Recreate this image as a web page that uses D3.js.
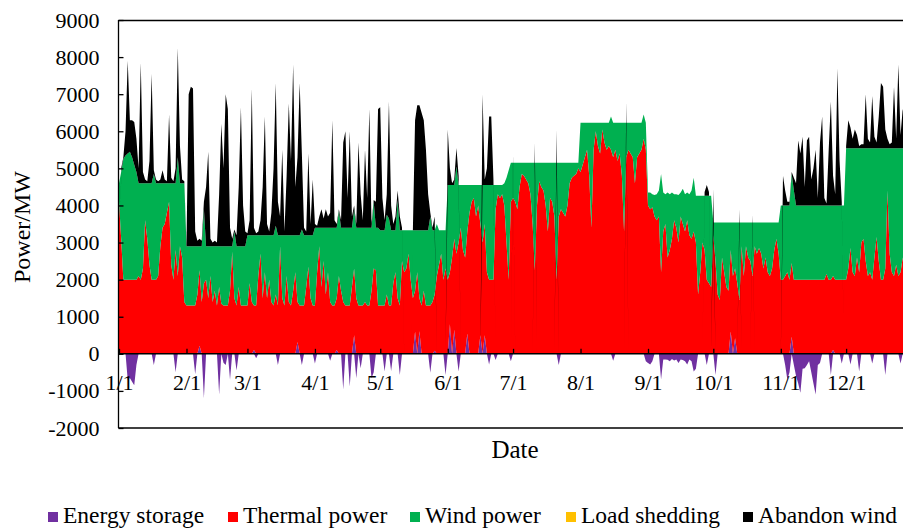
<!DOCTYPE html>
<html><head><meta charset="utf-8">
<script src="https://cdn.jsdelivr.net/npm/d3@7"></script>
<style>
body{margin:0;background:#fff;}
svg{display:block;}
text{font-family:"Liberation Serif","Times New Roman",serif;fill:#000;}
</style>
</head><body>
<svg id="chart" width="903" height="528"></svg>
<script>
// ---- x categories (day of year) and tick labels ----
const monthStartDays = [0,31,59,90,120,151,181,212,243,273,304,334];
const monthLabels = ["1/1","2/1","3/1","4/1","5/1","6/1","7/1","8/1","9/1","10/1","11/1","12/1"];
const yTickValues = [-2000,-1000,0,1000,2000,3000,4000,5000,6000,7000,8000,9000];
const seriesNames = ["Energy storage","Thermal power","Wind power","Load shedding","Abandon wind"];

// ---- daily series (MW) ----
const thermal = [
/*Jan*/4100,3100,2000,2000,2000,2000,2000,2000,2000,2100,2000,2300,3600,3100,2400,2000,2000,2000,2100,2900,3400,3500,3800,4100,2400,2000,2800,2100,2900,2600,1400,
/*Feb*/1300,1300,1300,1300,1300,1600,2030,1400,1900,2000,1500,2100,1400,1700,1300,1800,1350,1300,1300,1300,1700,2750,1500,1300,1800,1300,1300,1300,
/*Mar*/1300,1900,1400,1200,1300,2100,2700,1500,2200,1500,2000,1400,1300,1600,1300,2900,1500,1300,2100,1400,1300,1700,2200,1080,1300,1300,1300,1800,2350,1500,1300,
/*Apr*/1300,2200,2900,1800,2500,1600,2200,1400,1300,1300,1400,2100,1700,1400,1300,1300,1300,1800,1800,1500,1300,1300,1300,1400,1300,1300,1700,2300,2250,1300,
/*May*/1300,1300,1300,1600,1300,1300,1900,2200,1500,1300,2500,2200,2300,2700,2000,1500,1100,2200,890,1300,1700,1300,1300,1300,1400,1520,2100,2400,2700,2000,2300,
/*Jun*/2000,1400,2600,2450,2700,3000,3400,2800,2600,2750,3800,4100,4200,3700,4000,3000,3000,3000,2200,2000,2000,2000,3900,4300,4200,4300,4000,3000,2000,4100,
/*Jul*/4200,4100,3900,4500,4850,4800,4700,4600,4300,3500,2250,4000,4650,4500,4400,4000,3300,4200,4100,3700,2000,3700,3900,3800,3700,4000,4600,4750,4800,4850,5000,
/*Aug*/4900,5100,5300,5500,4800,3400,5500,6000,5600,5400,6050,5700,5500,5600,5500,5300,5500,5200,5400,4800,3300,5300,5500,5400,5300,4600,5300,5400,5500,5800,5500,
/*Sep*/4000,3900,3950,3700,3600,3700,2200,3300,3500,2600,2800,3100,3600,3400,3000,3700,3500,3300,3600,3200,3100,3300,3000,1600,2200,3000,2800,2000,1900,1800,
/*Oct*/3200,2500,1600,1450,2600,2200,1800,1700,2200,2100,1880,1900,1450,2900,2100,2900,2600,2500,2100,2900,2700,2850,2700,2300,2600,2200,2100,2300,2800,3100,2700,
/*Nov*/2000,2000,2100,2200,2000,1990,2000,2000,2000,2000,2000,2000,2000,2000,2000,2000,2000,2000,2000,2000,2000,2150,2000,2000,2000,2000,2000,2000,2000,2000,
/*Dec*/2000,2300,2850,2200,2100,2600,2200,3000,3100,2500,2100,2200,2000,2600,3150,2500,2000,2000,2300,4400,2700,2200,2100,2400,2100,2200,2600,2000,2200,2000,2000
];
const wind = [
/*Jan*/500,1800,3250,3350,3400,3450,3300,3100,2900,2500,2600,2300,1000,1500,2200,2600,2850,2600,2500,1700,1200,1100,800,500,2200,2600,1800,3200,1700,2000,3200,
/*Feb*/1600,1600,1600,1600,1600,1300,650,1500,2000,900,1400,800,1500,1200,1600,1100,1550,1600,1600,1600,1200,150,1800,1600,1100,1600,1600,1600,
/*Mar*/1900,1300,1800,1900,1900,1100,500,1700,1000,1700,1200,1800,1900,1850,1900,300,1700,1900,1100,1800,1900,1500,1000,1800,1900,2050,1900,1400,850,1700,1900,
/*Apr*/2100,1200,500,1600,900,1800,1200,2000,2100,2100,1900,1750,1700,2000,2100,2100,2100,1600,1600,1900,2100,2100,2100,2000,2100,2100,1700,1800,1150,2100,
/*May*/2030,2030,2030,2150,2350,2030,1430,1130,2650,2030,830,1130,1030,630,1330,1830,1630,1130,1830,2030,1630,2030,2030,2400,1930,1730,1400,930,630,1330,1030,
/*Jun*/2550,2350,1950,1450,2350,1550,1150,1750,1950,1250,750,450,350,850,550,1050,1550,1050,2350,2550,2550,2550,650,250,350,250,600,1750,2950,1050,
/*Jul*/950,1050,1250,650,300,350,450,550,850,1650,2900,1150,500,650,750,1150,1850,950,1050,1450,3150,1450,1250,1350,1450,1150,550,400,350,300,150,
/*Aug*/1330,1130,930,730,1430,2830,730,230,630,830,180,530,730,630,900,930,730,1030,830,1430,2930,930,730,830,930,1630,930,830,730,650,730,
/*Sep*/350,450,350,580,700,700,2650,1050,800,1750,1500,1250,700,900,1280,650,950,1000,750,1100,1300,1450,1260,2660,2060,1260,1460,2260,2360,2460,
/*Oct*/340,1040,1940,2090,940,1340,1740,1840,740,1440,1240,1640,2090,640,1440,640,940,1040,1440,640,840,690,840,1240,940,1340,1440,1240,740,440,840,
/*Nov*/2000,2000,1900,1800,2000,2400,2400,2000,2000,2000,2000,2000,2000,2000,2000,2000,2000,2000,2000,2000,2000,1850,2000,2000,1900,2000,2000,2000,2000,2000,
/*Dec*/3540,3240,2690,3340,3440,2940,3340,2540,2440,3040,3440,3340,3540,2940,2390,3040,3540,3540,3240,1140,2840,3340,3440,3140,3440,3340,2940,3540,3340,3540,3540
];
const abandon = [
/*Jan*/0,100,50,650,2500,850,1000,1150,900,400,3250,300,100,50,600,2950,100,100,50,100,350,100,50,1850,150,50,400,2950,1000,100,50,
/*Feb*/50,4100,4300,4250,400,150,200,150,200,1600,2550,200,100,150,100,1400,3300,2100,4100,3700,500,200,50,300,1600,3750,1100,400,
/*Mar*/50,400,3950,200,50,100,400,1300,3200,300,100,600,1800,3850,900,500,2300,100,1600,3550,2000,4600,1300,2100,4100,2050,200,100,2200,300,1500,
/*Apr*/100,50,300,500,250,500,300,400,2900,200,100,50,200,2300,2600,800,2600,300,100,100,2300,900,200,2100,800,3200,100,50,700,3200,
/*May*/3320,870,270,550,3150,670,170,370,250,370,70,0,0,0,0,20,2970,3370,3370,3170,2970,2170,970,100,70,370,0,0,0,0,0,
/*Jun*/1500,450,50,150,500,250,0,0,0,0,0,0,0,0,0,0,2450,150,450,1850,1850,150,0,0,0,0,0,0,0,0,
/*Jul*/200,0,0,0,0,0,0,0,0,0,550,0,0,0,0,0,0,0,0,0,900,0,0,0,0,0,0,0,0,0,0,
/*Aug*/0,0,0,0,0,0,0,0,0,0,0,0,0,0,0,0,0,0,0,0,0,570,0,0,0,0,0,0,0,0,0,
/*Sep*/0,0,0,0,0,0,0,0,0,0,0,0,0,0,0,0,0,0,0,0,0,0,0,0,0,0,100,290,100,0,
/*Oct*/910,0,0,0,0,0,0,0,0,0,0,0,360,0,0,0,0,0,210,0,0,0,0,0,0,0,0,0,0,0,0,
/*Nov*/0,800,400,100,100,50,350,600,1750,1400,1850,500,1750,1850,700,1000,1500,200,1700,2400,200,50,1500,2800,800,300,3700,1200,100,0,
/*Dec*/60,760,560,260,510,360,60,110,110,1460,260,160,1410,310,160,860,1760,1660,510,260,110,160,1660,260,2260,360,1060,660,1460,460,760
];
const storage = [
/*Jan*/0,0,0,0,-700,-650,-750,-850,-300,0,0,0,0,0,0,0,-300,0,0,0,0,0,0,0,0,0,-500,0,0,0,0,
/*Feb*/0,0,0,0,-550,0,220,0,-1200,0,0,0,0,0,0,-1100,0,-240,-300,0,-700,0,0,-450,0,0,0,0,
/*Mar*/0,0,0,100,-120,0,0,0,0,0,0,0,0,0,-300,0,0,0,0,0,0,0,0,320,0,-300,0,0,0,0,0,
/*Apr*/-260,0,0,0,0,0,0,-190,0,0,100,0,0,-960,0,0,-880,0,500,-660,0,-390,0,0,0,0,-660,-500,0,0,
/*May*/0,0,-480,0,0,-460,0,0,0,-570,0,0,0,0,0,0,600,0,610,0,0,0,0,-510,0,80,0,0,0,0,-570,
/*Jun*/0,800,0,650,0,-480,0,0,0,550,0,0,0,0,0,500,0,500,0,-290,0,0,-170,0,0,0,0,0,0,-200,
/*Jul*/0,0,0,0,0,0,0,0,0,0,0,0,0,0,0,0,0,0,0,0,0,-300,0,0,0,0,0,0,0,0,0,
/*Aug*/0,0,0,0,0,0,0,0,0,0,0,0,0,0,0,-190,0,0,0,0,0,0,0,0,0,0,0,0,0,0,-200,
/*Sep*/-250,-290,-200,0,0,0,-690,-150,-150,-160,-200,-140,-180,-150,-250,-150,-170,-200,-290,-150,-200,-480,-400,0,0,0,0,-300,0,0,
/*Oct*/0,-570,0,0,0,0,0,0,600,0,420,0,0,0,0,0,0,0,0,0,0,0,0,0,0,0,0,0,0,0,0,
/*Nov*/0,0,-300,-690,-500,460,-300,-600,-800,-1050,-400,-390,-300,-200,-500,-800,-1100,-300,-250,0,0,0,0,-570,100,0,0,0,-260,0,
/*Dec*/0,0,-290,0,0,0,-480,0,0,0,0,0,-260,0,0,0,0,0,-570,0,0,0,0,0,0,-260,0,0,0,0,0
];
const loadShedding = [
/*Jan*/0,0,0,0,0,0,0,0,0,0,0,0,0,0,0,0,0,0,0,0,0,0,0,0,0,0,0,0,0,0,0,
/*Feb*/0,0,0,0,0,0,0,0,0,0,0,0,0,0,0,0,0,0,0,0,0,0,0,0,0,0,0,0,
/*Mar*/0,0,0,0,0,0,0,0,0,0,0,0,0,0,0,0,0,0,0,0,0,0,0,0,0,0,0,0,0,0,0,
/*Apr*/0,0,0,0,0,0,0,0,0,0,0,0,0,0,0,0,0,0,0,0,0,0,0,0,0,0,0,0,0,0,
/*May*/0,0,0,0,0,0,0,0,0,0,0,0,0,0,0,0,0,0,0,0,0,0,0,0,0,0,0,0,0,0,0,
/*Jun*/0,0,0,0,0,0,0,0,0,0,0,0,0,0,0,0,0,0,0,0,0,0,0,0,0,0,0,0,0,0,
/*Jul*/0,0,0,0,0,0,0,0,0,0,0,0,0,0,0,0,0,0,0,0,0,0,0,0,0,0,0,0,0,0,0,
/*Aug*/0,0,0,0,0,0,0,0,0,0,0,0,0,0,0,0,0,0,0,0,0,0,0,0,0,0,0,0,0,0,0,
/*Sep*/0,0,0,0,0,0,0,0,0,0,0,0,0,0,0,0,0,0,0,0,0,0,0,0,0,0,0,0,0,0,
/*Oct*/0,0,0,0,0,0,0,0,0,0,0,0,0,0,0,0,0,0,0,0,0,0,0,0,0,0,0,0,0,0,0,
/*Nov*/0,0,0,0,0,0,0,0,0,0,0,0,0,0,0,0,0,0,0,0,0,0,0,0,0,0,0,0,0,0,
/*Dec*/0,0,0,0,0,0,0,0,0,0,0,0,0,0,0,0,0,0,0,0,0,0,0,0,0,0,0,0,0,0,0
];

// ---- layout ----
const svg = d3.select("#chart");
const plotLeft = 118.5, plotTop = 20, plotBottom = 428;
const x = d3.scaleLinear().domain([0, 365]).range([119, 913.6]);
const y = d3.scaleLinear().domain([-2000, 9000]).range([plotBottom, plotTop]);

const keys = ["storage","thermal","wind","shed","abandon"];
const colors = {storage:"#7030A0", thermal:"#FF0000", wind:"#00B050", shed:"#FFC000", abandon:"#000000"};
const rows = thermal.map((t, i) => ({
  day: i, storage: storage[i], thermal: t, wind: wind[i], shed: loadShedding[i], abandon: abandon[i]
}));
const stacked = d3.stack().keys(keys).offset(d3.stackOffsetDiverging)(rows);

svg.append("defs").append("clipPath").attr("id","plotclip")
  .append("rect").attr("x", plotLeft).attr("y", plotTop).attr("width", 903 - plotLeft).attr("height", plotBottom - plotTop);

const area = d3.area()
  .x(d => x(d.data.day))
  .y0(d => y(d[0]))
  .y1(d => y(d[1]));

svg.append("g").attr("clip-path","url(#plotclip)")
  .selectAll("path").data(stacked).join("path")
  .attr("d", area)
  .attr("fill", d => colors[d.key]);

// frame
const frame = svg.append("g").attr("stroke","#000").attr("stroke-width",1.3).attr("fill","none");
frame.append("line").attr("x1",plotLeft).attr("x2",plotLeft).attr("y1",plotTop).attr("y2",plotBottom);
frame.append("line").attr("x1",plotLeft).attr("x2",903).attr("y1",plotTop+0.5).attr("y2",plotTop+0.5);
frame.append("line").attr("x1",plotLeft).attr("x2",903).attr("y1",plotBottom).attr("y2",plotBottom);

// y axis
const yAxis = d3.axisLeft(y).tickValues(yTickValues).tickFormat(d => String(d))
  .tickSizeInner(-5).tickSizeOuter(0).tickPadding(19);
const gy = svg.append("g").attr("transform",`translate(${plotLeft},0)`).call(yAxis);
gy.attr("font-family", null);
gy.select(".domain").remove();
gy.selectAll("line").attr("stroke","#000").attr("stroke-width",1.3);
gy.selectAll("text").attr("font-size",22);

// x axis on the zero line
const x0 = y(0);
const xAxis = d3.axisBottom(x).tickValues(monthStartDays).tickFormat((d,i) => monthLabels[i])
  .tickSizeInner(-5).tickSizeOuter(0).tickPadding(21);
const gx = svg.append("g").attr("transform",`translate(0,${x0})`).call(xAxis);
gx.attr("font-family", null);
gx.select(".domain").attr("d", `M${plotLeft},0H903`).attr("stroke","#000").attr("stroke-width",1.5);
gx.selectAll("line").attr("stroke","#000").attr("stroke-width",1.3);
gx.selectAll("text").attr("font-size",22);

// axis titles
svg.append("text").attr("x",515).attr("y",458).attr("text-anchor","middle")
  .attr("font-size",25).text("Date");
svg.append("text").attr("transform","translate(30,227) rotate(-90)").attr("text-anchor","middle")
  .attr("font-size",24).text("Power/MW");

// legend
const legendX = [48, 228, 410, 566, 743];
const lg = svg.append("g");
keys.forEach((k, i) => {
  lg.append("rect").attr("x", legendX[i]).attr("y", 512).attr("width", 10).attr("height", 10).attr("fill", colors[k]);
  lg.append("text").attr("x", legendX[i] + 15).attr("y", 523).attr("font-size", 23.5).text(seriesNames[i]);
});
</script>
</body></html>
